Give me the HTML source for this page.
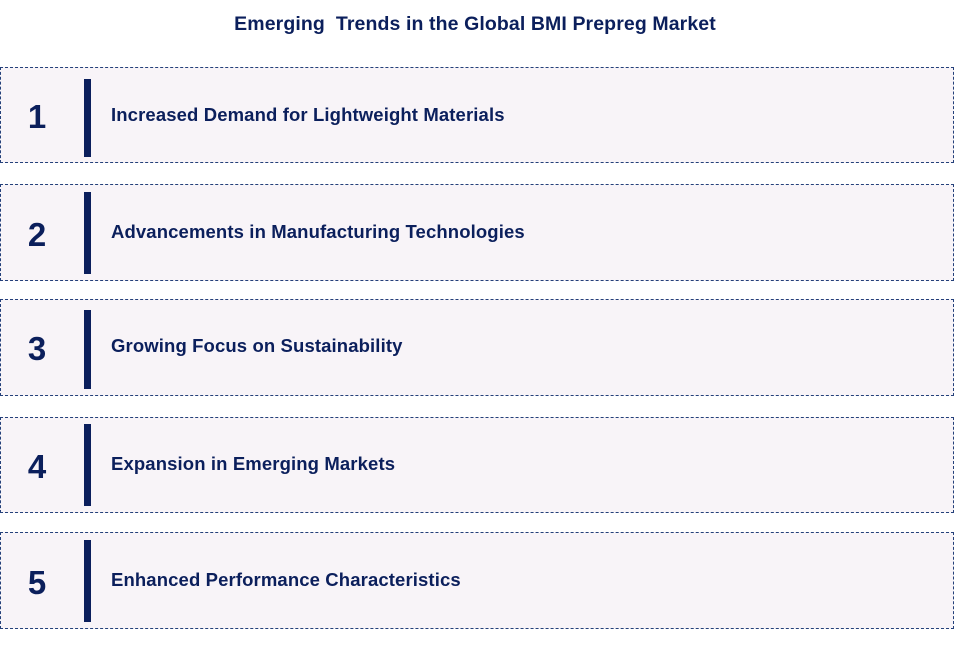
<!DOCTYPE html>
<html><head><style>
body{margin:0;width:980px;height:658px;background:#fff;font-family:"Liberation Sans",Arial,sans-serif;position:relative;overflow:hidden}
.t{position:absolute;top:13px;left:0;width:950px;text-align:center;font-weight:bold;font-size:19.5px;letter-spacing:0.1px;color:#0b1f5c}
.b{position:absolute;left:0;width:952px;border:1px dashed #24407a;background:#f8f4f8}
.n{position:absolute;left:25px;width:24px;text-align:center;font-weight:bold;font-size:33px;color:#0b1f5c}
.bar{position:absolute;left:84px;width:7px;background:#0b1f5c}
.l{position:absolute;left:111px;font-weight:bold;font-size:18.5px;color:#0b1f5c;letter-spacing:0.12px}
</style></head><body>
<div class="t">Emerging &nbsp;Trends in the Global BMI Prepreg Market</div>
<div class="b" style="top:67px;height:94px"></div><div class="bar" style="top:79px;height:78px"></div><div class="n" style="top:98px">1</div><div class="l" style="top:104px">Increased Demand for Lightweight Materials</div>
<div class="b" style="top:184px;height:95px"></div><div class="bar" style="top:192px;height:82px"></div><div class="n" style="top:216px">2</div><div class="l" style="top:221px">Advancements in Manufacturing Technologies</div>
<div class="b" style="top:299px;height:95px"></div><div class="bar" style="top:310px;height:79px"></div><div class="n" style="top:330px">3</div><div class="l" style="top:335px">Growing Focus on Sustainability</div>
<div class="b" style="top:417px;height:94px"></div><div class="bar" style="top:424px;height:82px"></div><div class="n" style="top:448px">4</div><div class="l" style="top:453px">Expansion in Emerging Markets</div>
<div class="b" style="top:532px;height:95px"></div><div class="bar" style="top:540px;height:82px"></div><div class="n" style="top:564px">5</div><div class="l" style="top:569px">Enhanced Performance Characteristics</div>
</body></html>
